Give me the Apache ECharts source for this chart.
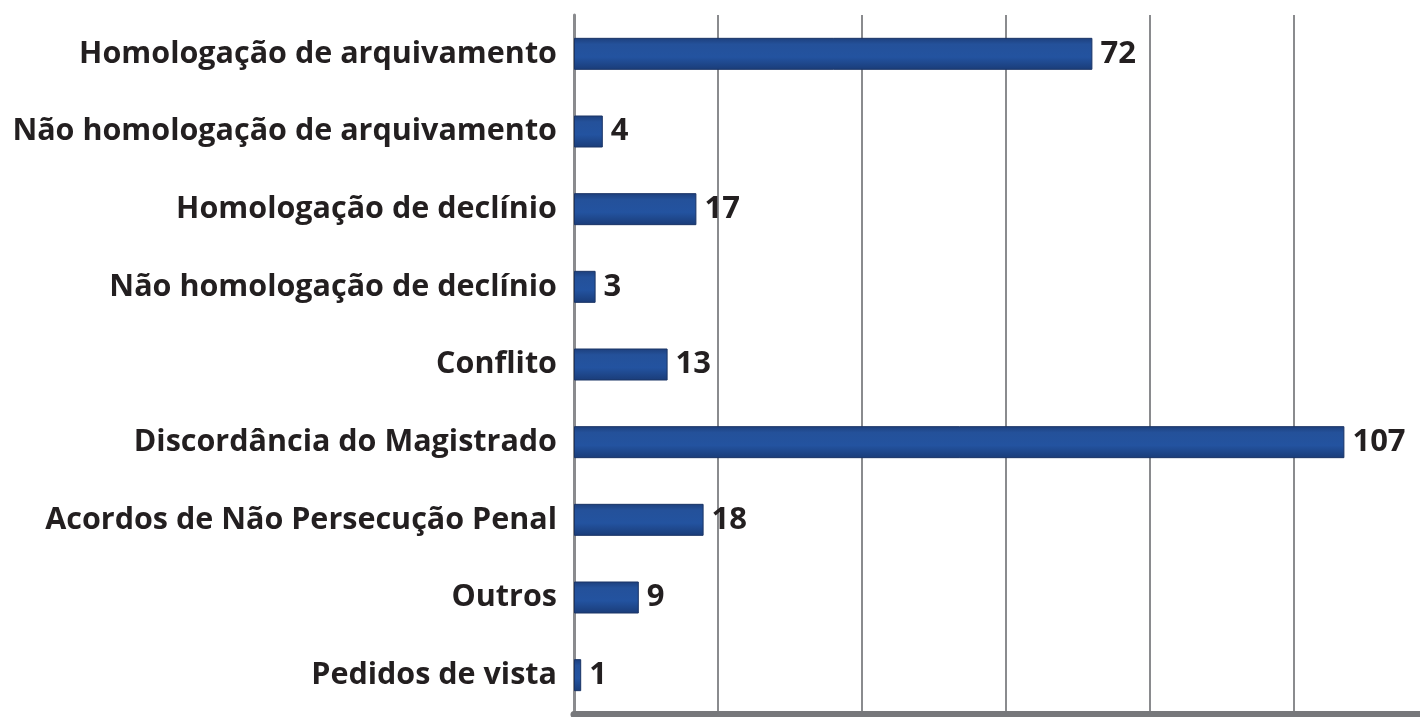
<!DOCTYPE html>
<html><head><meta charset="utf-8">
<script src="https://cdn.jsdelivr.net/npm/echarts@6/dist/echarts.min.js"></script>
<style>html,body{margin:0;padding:0;background:#fff}#c{width:1420px;height:717px}</style>
</head><body><div id="c"></div>
<script>
const categories = [
  "Homologação de arquivamento",
  "Não homologação de arquivamento",
  "Homologação de declínio",
  "Não homologação de declínio",
  "Conflito",
  "Discordância do Magistrado",
  "Acordos de Não Persecução Penal",
  "Outros",
  "Pedidos de vista"
];
const values = [72, 4, 17, 3, 13, 107, 18, 9, 1];

const chart = echarts.init(document.getElementById('c'));
chart.setOption({
  animation: false,
  grid: { left: 574, top: 15, width: 1008, bottom: 3, containLabel: false, outerBoundsMode: 'none' },
  xAxis: {
    type: 'value', min: 0, max: 140, interval: 20,
    axisLine: { show: true, lineStyle: { color: '#77787b', width: 7 } },
    axisTick: { show: false },
    axisLabel: { show: false },
    splitLine: { show: true, lineStyle: { color: '#8a8b8e', width: 2 } }
  },
  yAxis: {
    type: 'category', data: categories, inverse: true,
    axisLine: { show: true, onZero: false, lineStyle: { color: '#8a8b8e', width: 3 } },
    axisTick: { show: false },
    axisLabel: { margin: 17, color: '#231f20', fontFamily: 'Open Sans', fontWeight: 'bold', fontSize: 30.5 }
  },
  series: [{
    type: 'bar', data: values, barWidth: 32,
    itemStyle: {
      color: new echarts.graphic.LinearGradient(0, 0, 0, 1, [
        { offset: 0, color: '#1d3f7c' },
        { offset: 0.2, color: '#24519a' },
        { offset: 0.6, color: '#2353a0' },
        { offset: 1, color: '#1a3c78' }
      ]),
      borderColor: '#1a3466', borderWidth: 1
    },
    label: { show: true, position: 'right', distance: 8, color: '#231f20', fontFamily: 'Open Sans', fontWeight: 'bold', fontSize: 31 }
  }]
});
</script></body></html>
